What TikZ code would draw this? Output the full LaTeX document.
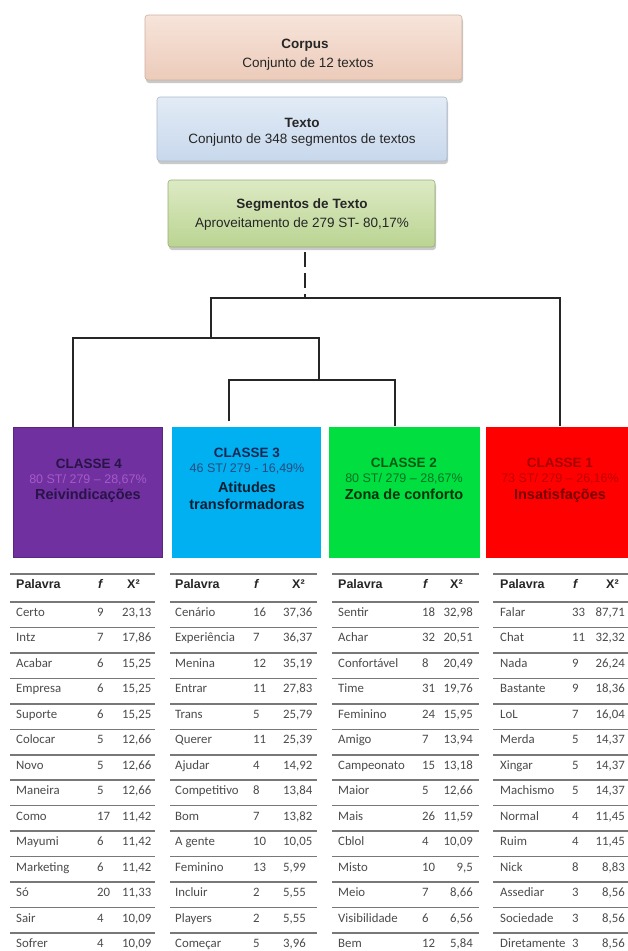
\documentclass[tikz,border=0pt]{standalone}
\usepackage{fontspec}
\setmainfont{Liberation Sans}
\newfontfamily\tabfont{Carlito}
\usetikzlibrary{shadows}
\definecolor{corpT}{RGB}{247,228,218}
\definecolor{corpB}{RGB}{236,203,186}
\definecolor{corpD}{RGB}{205,175,160}
\definecolor{textT}{RGB}{226,235,246}
\definecolor{textB}{RGB}{200,216,236}
\definecolor{textD}{RGB}{170,185,205}
\definecolor{segT}{RGB}{221,234,196}
\definecolor{segB}{RGB}{186,212,146}
\definecolor{segD}{RGB}{150,175,115}
\definecolor{cq}{RGB}{112,48,160}
\definecolor{ct}{RGB}{0,176,240}
\definecolor{cd}{RGB}{0,222,64}
\definecolor{cu}{RGB}{255,0,0}
\definecolor{qA}{RGB}{40,20,70}
\definecolor{qB}{RGB}{165,90,200}
\definecolor{tA}{RGB}{20,40,85}
\definecolor{tB}{RGB}{40,75,125}
\definecolor{tC}{RGB}{10,30,50}
\definecolor{dA}{RGB}{0,90,20}
\definecolor{dB}{RGB}{0,115,35}
\definecolor{dC}{RGB}{0,50,10}
\definecolor{uA}{RGB}{165,0,0}
\definecolor{uB}{RGB}{190,0,0}
\definecolor{uC}{RGB}{120,0,0}
\definecolor{celltxt}{RGB}{75,75,75}
\definecolor{rulec}{RGB}{120,120,120}
\tikzset{
  topbox/.style={rounded corners=3pt, line width=0.6pt, inner sep=0pt,
    drop shadow={shadow xshift=1pt, shadow yshift=-3pt, opacity=0.35, fill=black!60}},
  boxtxt/.style={anchor=base, inner sep=0pt, font=\fontsize{13.5}{15}\selectfont, text=black!85},
  dend/.style={line width=2.1pt, draw=black!85},
  classbox/.style={inner sep=0pt, minimum height=130pt, line width=0.5pt},
  clsA/.style={anchor=base, inner sep=0pt, font=\fontsize{13.5}{15}\selectfont\bfseries},
  clsB/.style={anchor=base, inner sep=0pt, font=\fontsize{12.5}{14}\selectfont},
  clsC/.style={anchor=base, inner sep=0pt, font=\fontsize{14.5}{16}\selectfont\bfseries},
  rulel/.style={line width=1.6pt, draw=rulec},
  hd/.style={anchor=base west, inner sep=0pt, font=\fontsize{12.5}{14}\selectfont\bfseries, text=black!85},
  cell/.style={inner sep=0pt, font=\tabfont\fontsize{12.8}{14}\selectfont, text=celltxt}
}
% #1 name, #2 left, #3 right, #4 word x, #5 f x, #6 X2 x, #7 X2 anchor, #8 header X2 x, #9 data
\newcommand\drawtable[9]{%
  \draw[rulel] (#2,574) -- (#3,574);
  \draw[rulel] (#2,602) -- (#3,602);
  \foreach \k in {1,...,13} {\draw[rulel] (#2,{602+\k*25.46}) -- (#3,{602+\k*25.46});}
  \node[hd] (#1hP) at (#4,588.5) {Palavra};
  \node[hd] (#1hF) at (#5+1,588.5) {\itshape f};
  \node[hd] (#1hX) at (#8,588.5) {X²};
  \foreach \w/\f/\x [count=\i] in {#9} {
    \node[cell, anchor=base west] (#1w\i) at (#4,{602+(\i-1)*25.46+14.5}) {\w};
    \node[cell, anchor=base west] (#1f\i) at (#5,{602+(\i-1)*25.46+14.5}) {\f};
    \node[cell, anchor=base #7] (#1x\i) at (#6,{602+(\i-1)*25.46+14.5}) {\x};
  }
}
\begin{document}
\begin{tikzpicture}[x=1pt,y=-1pt]
\useasboundingbox (0,0) rectangle (628,951);
\clip (0,0) rectangle (628,951);
\fill[white] (0,0) rectangle (628,951);

% top boxes
\node[topbox, top color=corpT, bottom color=corpB, draw=corpD, minimum width=317pt, minimum height=65pt] (corpus) at (303.5,47.5) {};
\node[boxtxt] (corpusA) at (305,48) {\bfseries Corpus};
\node[boxtxt] (corpusB) at (308,67) {Conjunto de 12 textos};

\node[topbox, top color=textT, bottom color=textB, draw=textD, minimum width=290pt, minimum height=64pt] (texto) at (302,129) {};
\node[boxtxt] (textoA) at (302,127) {\bfseries Texto};
\node[boxtxt] (textoB) at (302,143) {Conjunto de 348 segmentos de textos};

\node[topbox, top color=segT, bottom color=segB, draw=segD, minimum width=267pt, minimum height=67pt] (seg) at (301.5,213.5) {};
\node[boxtxt] (segA) at (302,208) {\bfseries Segmentos de Texto};
\node[boxtxt] (segB) at (302,227) {Aproveitamento de 279 ST- 80,17\%};

% class boxes
\node[classbox, fill=cq, draw=cq!80!black, minimum width=149pt] (c4) at (87.5,492) {};
\node[classbox, fill=ct, draw=ct, minimum width=148pt] (c3) at (246,492) {};
\node[classbox, fill=cd, draw=cd, minimum width=150pt] (c2) at (404,492) {};
\node[classbox, fill=cu, draw=cu, minimum width=152pt] (c1) at (562,492) {};

\node[clsA, text=qA] (c4a) at (89,468) {CLASSE 4};
\node[clsB, text=qB] (c4b) at (88,483) {80 ST/ 279 – 28,67\%};
\node[clsC, text=qA] (c4c) at (88,499.5) {Reivindicações};

\node[clsA, text=tA] (c3a) at (247,457) {CLASSE 3};
\node[clsB, text=tB] (c3b) at (247,472.5) {46 ST/ 279 - 16,49\%};
\node[clsC, text=tC] (c3c) at (247,492) {Atitudes};
\node[clsC, text=tC] (c3d) at (247,509) {transformadoras};

\node[clsA, text=dA] (c2a) at (404,467) {CLASSE 2};
\node[clsB, text=dB] (c2b) at (404,482) {80 ST/ 279 – 28,67\%};
\node[clsC, text=dC] (c2c) at (404,499.5) {Zona de conforto};

\node[clsA, text=uA] (c1a) at (560,467) {CLASSE 1};
\node[clsB, text=uB] (c1b) at (560,482) {73 ST/ 279 – 26,16\%};
\node[clsC, text=uC] (c1c) at (560,499.5) {Insatisfações};

% dendrogram
\coordinate (dtop) at (305,252);
\coordinate (droot) at (305,298);
\coordinate (jAl) at (211,298);
\coordinate (jAr) at (560,298);
\coordinate (jBm) at (211,338);
\coordinate (jBl) at (73,338);
\coordinate (jBr) at (319,338);
\coordinate (jCm) at (319,380);
\coordinate (jCl) at (229,380);
\coordinate (jCr) at (395,380);
\coordinate (e4) at (73,427);
\coordinate (e3) at (229,421);
\coordinate (e2) at (395,426);
\coordinate (e1) at (560,426);
\draw[dend, dash pattern=on 15pt off 6pt] (dtop) -- (droot);
\draw[dend] (jBm) -- (jAl) -- (jAr) -- (e1);
\draw[dend] (e4) -- (jBl) -- (jBr) -- (jCm);
\draw[dend] (e3) -- (jCl) -- (jCr) -- (e2);

% tables
\drawtable{tq}{10}{155}{16}{97}{122}{west}{127}{Certo/9/{23,13}, Intz/7/{17,86}, Acabar/6/{15,25}, Empresa/6/{15,25}, Suporte/6/{15,25}, Colocar/5/{12,66}, Novo/5/{12,66}, Maneira/5/{12,66}, Como/17/{11,42}, Mayumi/6/{11,42}, Marketing/6/{11,42}, Só/20/{11,33}, Sair/4/{10,09}, Sofrer/4/{10,09}}
\drawtable{tt}{170}{317}{175}{253}{283}{west}{292}{Cenário/16/{37,36}, Experiência/7/{36,37}, Menina/12/{35,19}, Entrar/11/{27,83}, Trans/5/{25,79}, Querer/11/{25,39}, Ajudar/4/{14,92}, Competitivo/8/{13,84}, Bom/7/{13,82}, A gente/10/{10,05}, Feminino/13/{5,99}, Incluir/2/{5,55}, Players/2/{5,55}, Começar/5/{3,96}}
\drawtable{td}{332}{479}{338}{422}{473}{east}{450}{Sentir/18/{32,98}, Achar/32/{20,51}, Confortável/8/{20,49}, Time/31/{19,76}, Feminino/24/{15,95}, Amigo/7/{13,94}, Campeonato/15/{13,18}, Maior/5/{12,66}, Mais/26/{11,59}, Cblol/4/{10,09}, Misto/10/{9,5}, Meio/7/{8,66}, Visibilidade/6/{6,56}, Bem/12/{5,84}}
\drawtable{tu}{493}{640}{500}{572}{625}{east}{606}{Falar/33/{87,71}, Chat/11/{32,32}, Nada/9/{26,24}, Bastante/9/{18,36}, LoL/7/{16,04}, Merda/5/{14,37}, Xingar/5/{14,37}, Machismo/5/{14,37}, Normal/4/{11,45}, Ruim/4/{11,45}, Nick/8/{8,83}, Assediar/3/{8,56}, Sociedade/3/{8,56}, Diretamente/3/{8,56}}
\end{tikzpicture}
\end{document}
